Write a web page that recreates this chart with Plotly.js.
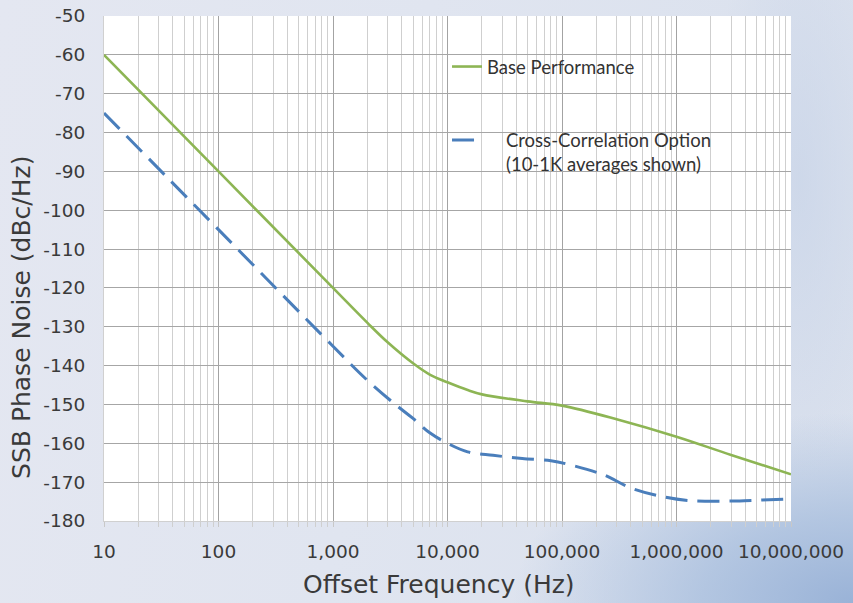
<!DOCTYPE html>
<html>
<head>
<meta charset="utf-8">
<script src="https://cdn.plot.ly/plotly-3.0.1.min.js"></script>
<style>
  html, body { margin: 0; padding: 0; }
  body {
    width: 853px; height: 603px; overflow: hidden;
    background:
      radial-gradient(ellipse 340px 190px at 100% 100%, rgba(150,176,214,0.95) 0%, rgba(166,189,221,0.75) 45%, rgba(200,213,233,0) 100%),
      radial-gradient(ellipse 90px 300px at 800px 180px, rgba(200,212,232,0.7) 0%, rgba(200,213,233,0) 100%),
      linear-gradient(100deg, #e4e7f1 0%, #e0e5f0 45%, #d9e0ed 100%);
  }
  #chart { width: 853px; height: 603px; }
</style>
</head>
<body>
<div id="chart"></div>
<script>
// Offset frequency (Hz) and SSB phase noise (dBc/Hz)
const baseFreq  = [10, 100, 1000, 2000, 3000, 5000, 7000, 10000, 15000, 20000, 50000, 100000, 300000, 1000000, 3000000, 10000000];
const baseNoise = [-60, -90, -120, -129, -134, -139.4, -142.3, -144.3, -146.3, -147.4, -149.2, -150.3, -153.8, -158.3, -163, -168];

const xcFreq  = [10, 100, 1000, 2000, 3500, 5000, 7000, 10000, 15000, 25000, 45000, 80000, 120000, 230000, 400000, 750000, 1250000, 2400000, 4500000, 10000000];
const xcNoise = [-75, -105, -135, -143.8, -150, -153.6, -157.3, -160, -162.2, -163.1, -163.9, -164.5, -165.6, -168.1, -171.5, -173.7, -174.7, -174.9, -174.7, -174.3];

const seriesNames = ['Base Performance', 'Cross-Correlation Option<br>(10-1K averages shown)'];

const xTickVals = [10, 100, 1000, 10000, 100000, 1000000, 10000000];
const xTickText = ['10', '100', '1,000', '10,000', '100,000', '1,000,000', '10,000,000'];
const yTickVals = [-50, -60, -70, -80, -90, -100, -110, -120, -130, -140, -150, -160, -170, -180];
const yTickText = ['-50', '-60', '-70', '-80', '-90', '-100', '-110', '-120', '-130', '-140', '-150', '-160', '-170', '-180'];

const xTitle = 'Offset Frequency (Hz)';
const yTitle = 'SSB Phase Noise (dBc/Hz)';

const pad = '\u00a0\u00a0\u00a0\u00a0';
const blueLabel = seriesNames[1].split('<br>').map(s => pad + s).join('<br>');

const traces = [
  {
    x: baseFreq, y: baseNoise, type: 'scatter', mode: 'lines',
    name: seriesNames[0],
    line: { color: '#8db554', width: 2.6, shape: 'spline', smoothing: 1 },
    legend: 'legend'
  },
  {
    x: xcFreq, y: xcNoise, type: 'scatter', mode: 'lines',
    name: blueLabel,
    line: { color: '#4a7ebb', width: 3, dash: '22px,10px', shape: 'spline', smoothing: 1 },
    legend: 'legend2'
  }
];

const tickFont = { family: 'DejaVu Sans, Verdana, sans-serif', size: 18.5, color: '#3a3a3a' };
const titleFont = { family: 'DejaVu Sans, Verdana, sans-serif', size: 25, color: '#3a3a3a' };
const legFont = { family: 'Lato, Calibri, sans-serif', size: 18.5, color: '#333333' };

const layout = {
  width: 853, height: 603,
  paper_bgcolor: 'rgba(0,0,0,0)',
  plot_bgcolor: '#ffffff',
  margin: { l: 104, r: 62, t: 16, b: 82 },
  showlegend: true,
  legend: {
    x: 0.4993, y: 0.899, xanchor: 'left', yanchor: 'middle',
    bgcolor: 'rgba(0,0,0,0)', borderwidth: 0, font: legFont
  },
  legend2: {
    x: 0.4993, y: 0.791, xanchor: 'left', yanchor: 'top', valign: 'top',
    bgcolor: 'rgba(0,0,0,0)', borderwidth: 0, font: legFont
  },
  xaxis: {
    type: 'log',
    range: [1, 7],
    tickvals: xTickVals, ticktext: xTickText,
    tickfont: tickFont,
    ticks: 'outside', ticklen: 5, tickcolor: '#c8c8c8',
    ticklabelstandoff: 9,
    showgrid: true, gridcolor: '#a3a3a3', gridwidth: 1,
    minor: { dtick: 'D1', showgrid: true, gridcolor: '#cfcfcf', gridwidth: 1, ticks: 'outside', ticklen: 5, tickcolor: '#cfcfcf' },
    showline: true, linecolor: '#d0d0d0', linewidth: 1,
    zeroline: false
  },
  yaxis: {
    range: [-180, -50],
    tickvals: yTickVals, ticktext: yTickText,
    tickfont: tickFont,
    ticks: '', ticklabelstandoff: 14,
    showgrid: true, gridcolor: '#a6a6a6', gridwidth: 1,
    showline: true, linecolor: '#d0d0d0', linewidth: 1,
    zeroline: false
  },
  annotations: [
    {
      text: xTitle, font: titleFont, showarrow: false,
      xref: 'paper', yref: 'paper', x: 0.488, y: -0.158,
      xanchor: 'center', yanchor: 'bottom'
    },
    {
      text: yTitle, font: titleFont, showarrow: false, textangle: -90,
      xref: 'paper', yref: 'paper', x: -0.1194, y: 0.404,
      xanchor: 'center', yanchor: 'middle'
    }
  ]
};

Plotly.newPlot('chart', traces, layout, { displayModeBar: false, staticPlot: true });
</script>
</body>
</html>
